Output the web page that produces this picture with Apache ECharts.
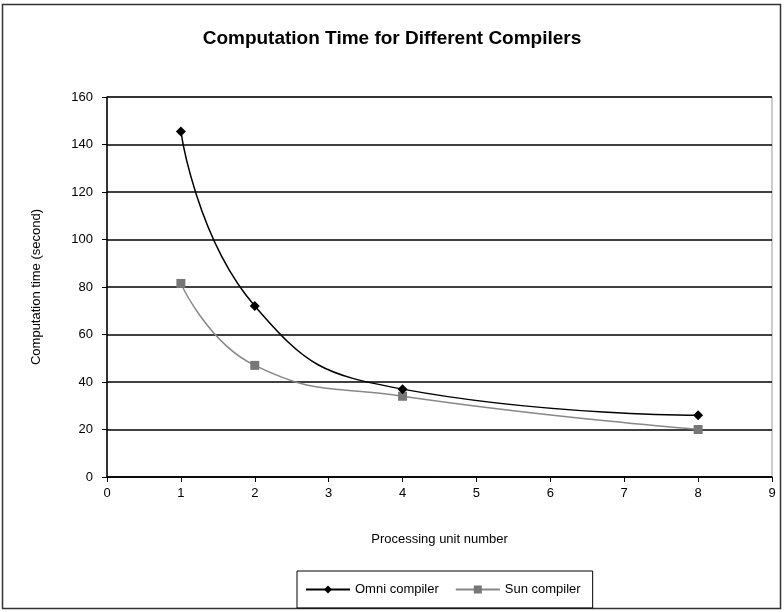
<!DOCTYPE html>
<html><head><meta charset="utf-8">
<script src="https://cdn.jsdelivr.net/npm/echarts@6/dist/echarts.min.js"></script>
<style>html,body{margin:0;padding:0;background:#fff}#c{width:784px;height:612px}</style>
</head><body><div id="c"></div>
<script>
const units = [1, 2, 4, 8];
const omni = [145.5, 72, 37, 26];
const sun = [81.5, 47, 34, 20];
const xTicks = [0,1,2,3,4,5,6,7,8,9];
const yTicks = [0,20,40,60,80,100,120,140,160];

const font = '"Liberation Sans", Arial, sans-serif';
const chart = echarts.init(document.getElementById('c'));
chart.setOption({
  backgroundColor: '#fff',
  animation: false,
  title: {
    text: 'Computation Time for Different Compilers',
    left: 'center', top: 24,
    textStyle: { fontFamily: font, fontSize: 19, fontWeight: 'bold', color: '#000' }
  },
  graphic: [{
    type: 'rect', shape: { x: 2.5, y: 4.5, width: 778, height: 604 },
    style: { fill: 'none', stroke: '#333', lineWidth: 1.5 }, silent: true, z: -1
  }],
  legend: {
    bottom: 4, left: 297,
    data: ['Omni compiler', 'Sun compiler'],
    borderColor: '#000', borderWidth: 1, padding: [12, 12, 12, 8],
    itemWidth: 44, itemHeight: 10, itemGap: 16,
    textStyle: { fontFamily: font, fontSize: 13, color: '#000' }
  },
  grid: { left: 107, right: 12, top: 97, bottom: 135, show: true, borderColor: '#999', borderWidth: 1 },
  xAxis: {
    type: 'value', min: 0, max: 9, interval: 1,
    name: 'Processing unit number', nameLocation: 'middle', nameGap: 56,
    nameTextStyle: { fontFamily: font, fontSize: 13, color: '#000' },
    axisLine: { lineStyle: { color: '#000', width: 1.5 } },
    axisTick: { show: true, length: 5, lineStyle: { color: '#000' } },
    axisLabel: { fontFamily: font, fontSize: 13, color: '#000', margin: 10,
      formatter: v => xTicks.includes(v) ? String(v) : '' },
    splitLine: { show: false }
  },
  yAxis: {
    type: 'value', min: 0, max: 160, interval: 20,
    name: 'Computation time (second)', nameLocation: 'middle', nameGap: 64,
    nameTextStyle: { fontFamily: font, fontSize: 13, color: '#000' },
    axisLine: { show: true, lineStyle: { color: '#000', width: 1.5 } },
    axisTick: { show: true, length: 5, lineStyle: { color: '#000' } },
    axisLabel: { fontFamily: font, fontSize: 13, color: '#000', margin: 14,
      formatter: v => yTicks.includes(v) ? String(v) : '' },
    splitLine: { show: true, lineStyle: { color: '#000', width: 1.5 } }
  },
  series: [
    {
      name: 'Omni compiler', type: 'line', smooth: 0.5,
      data: units.map((u, i) => [u, omni[i]]),
      symbol: 'diamond', symbolSize: 10,
      lineStyle: { color: '#000', width: 1.5 },
      itemStyle: { color: '#000' }, z: 3
    },
    {
      name: 'Sun compiler', type: 'line', smooth: 0.5,
      data: units.map((u, i) => [u, sun[i]]),
      symbol: 'rect', symbolSize: 9,
      lineStyle: { color: '#888', width: 1.5 },
      itemStyle: { color: '#777' }, z: 2
    }
  ]
});
</script></body></html>
